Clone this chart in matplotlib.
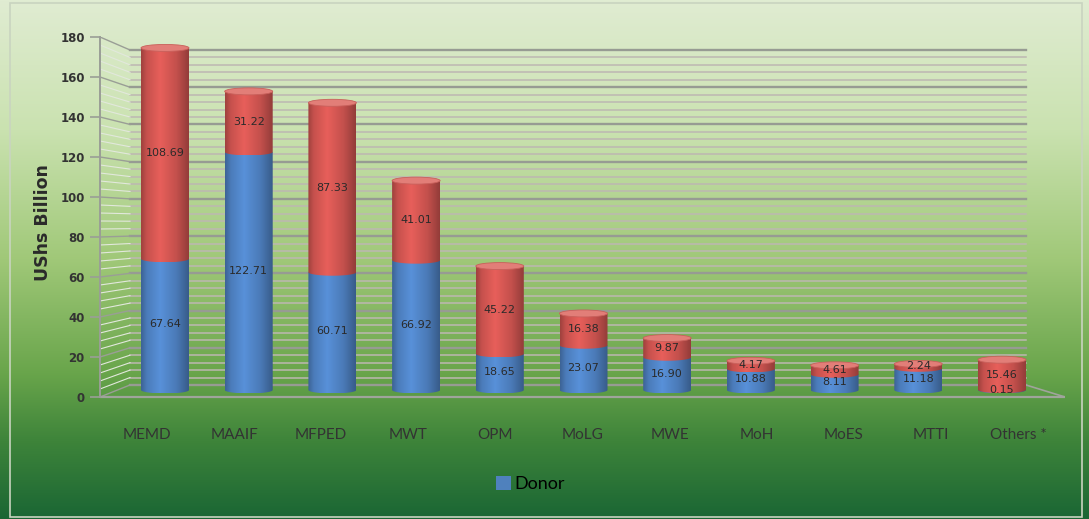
import numpy as np
import matplotlib
matplotlib.use('Agg')
import matplotlib.pyplot as plt
from matplotlib.path import Path
from matplotlib.patches import PathPatch, Ellipse, Patch, Rectangle

categories = ['MEMD', 'MAAIF', 'MFPED', 'MWT', 'OPM', 'MoLG', 'MWE',
              'MoH', 'MoES', 'MTTI', 'Others *']
donor = [67.64, 122.71, 60.71, 66.92, 18.65, 23.07, 16.90, 10.88, 8.11, 11.18, 0.15]
gou = [108.69, 31.22, 87.33, 41.01, 45.22, 16.38, 9.87, 4.17, 4.61, 2.24, 15.46]
yticks = list(range(0, 181, 20))

W, H = 1089, 519
fig = plt.figure(figsize=(W / 100, H / 100), dpi=100)

# background: vertical green gradient over the whole chart area
bg = fig.add_axes([0, 0, 1, 1], zorder=-1)
stops = np.array([0, 0.25, 0.5, 0.72, 0.85, 1.0])
cols = np.array([(224, 236, 210), (202, 226, 176), (160, 200, 120),
                 (105, 165, 75), (62, 132, 58), (26, 102, 52)]) / 255
yy = np.linspace(0, 1, 400)
grad = np.stack([np.interp(yy, stops, cols[:, k]) for k in range(3)], axis=-1)
bg.imshow(grad[:, None, :], aspect='auto', extent=[0, 1, 0, 1], origin='upper')
bg.add_patch(Rectangle((0.009, 0.004), 0.985, 0.99, fill=False, ec='#c9d4c0', lw=1.2))
bg.set_xlim(0, 1)
bg.set_ylim(0, 1)
bg.axis('off')

# main axes, laid out in pixels
px_left, px_right, px_top, px_bot = 100, 1065, 37, 409
ax = fig.add_axes([px_left / W, 1 - px_bot / H, (px_right - px_left) / W,
                   (px_bot - px_top) / H])
ax.patch.set_alpha(0)
step = 83.7
x0, x1 = (px_left - 165) / step, (px_right - 165) / step
ymin = -6

# back wall and side wall
xb_left = x0 + 30 / step
xb_right = (1026 - 165) / step
def back(v):
    return 6 + 0.9306 * v

# bars stand on a plane between the front axis and the back wall
def mid(v):
    return 3.5 + 0.97 * v

for v in np.arange(0, 181, 4):
    major = v % 20 == 0
    c = '#979b93' if major else '#bdb7b2'
    lw = 1.7 if major else 1.1
    ax.plot([xb_left, xb_right], [back(v), back(v)], color=c, lw=lw, zorder=1)
    ax.plot([x0, xb_left], [v, back(v)], color='#9a9e96' if major else '#e2e8dc',
            lw=1.0 if major else 0.8, zorder=1)
# floor edges
ax.plot([x0, x1], [0, 0], color='#a0a49c', lw=1.6, zorder=1)
ax.plot([xb_right, x1], [back(0), 0], color='#a0a49c', lw=1.2, zorder=1)

def shade(c):
    c = np.array(c) / 255
    p = np.linspace(0, 1, 60)
    pos = [0, 0.12, 0.4, 0.75, 1]
    f = [0.78, 0.97, 1.13, 0.95, 0.72]
    s = np.interp(p, pos, f)
    return np.clip(c[None, None, :] * s[None, :, None], 0, 1)

blue_sh = shade((78, 128, 192))
red_sh = shade((205, 84, 80))

bw = 48 / step
eh = 3.5

def cyl_segment(xc, y0, y1, img, z):
    half = bw / 2
    t = np.linspace(np.pi, 2 * np.pi, 40)
    verts = [(xc - half, y1)] + list(zip(xc + half * np.cos(t), y0 + eh / 2 * np.sin(t)))
    verts += [(xc + half, y1), (xc - half, y1)]
    patch = PathPatch(Path(verts), fc='none', ec='none')
    ax.add_patch(patch)
    im = ax.imshow(img, extent=[xc - half, xc + half, y0 - eh / 2, y1],
                   aspect='auto', zorder=z, interpolation='bilinear')
    im.set_clip_path(patch)

lbl = dict(ha='center', va='center', fontsize=8, color='#2a2a2a', zorder=6)
for i, (d, g) in enumerate(zip(donor, gou)):
    cyl_segment(i, mid(0), mid(d), blue_sh, 3)
    cyl_segment(i, mid(d), mid(d + g), red_sh, 3.1)
    ax.add_patch(Ellipse((i, mid(d + g)), bw, eh, fc='#e27e78', ec='#c8605b',
                         lw=0.6, zorder=4))
    ax.text(i, mid(d / 2), f'{d:.2f}', **lbl)
    ax.text(i, mid(d + g / 2), f'{g:.2f}', **lbl)

ax.set_xlim(x0, x1)
ax.set_ylim(ymin, 180)

for s in ['top', 'right', 'bottom']:
    ax.spines[s].set_visible(False)
ax.spines['left'].set_bounds(0, 180)
ax.spines['left'].set_color('#9a9e96')
ax.spines['left'].set_linewidth(1.4)
ax.set_yticks(yticks)
ax.set_yticklabels([str(t) for t in yticks], fontsize=8.5, fontweight='bold',
                   color='#333333')
ax.tick_params(axis='y', length=7, width=1.2, color='#9a9e96', pad=4)

# category labels sit on the front plane, slightly wider spaced than the bars
lab_x = [(147 + 87.1 * i - 165) / step for i in range(len(categories))]
ax.set_xticks(lab_x)
ax.set_xticklabels(categories, fontsize=11, color='#333333', family=['Lato', 'DejaVu Sans'])
ax.tick_params(axis='x', length=0, pad=14)

ax.set_ylabel('UShs Billion', fontsize=12.5, fontweight='bold', color='#2a2a2a',
              labelpad=6)

fig.legend(handles=[Patch(fc='#4f81bd', ec='none')], labels=['Donor'],
           loc='center', bbox_to_anchor=(0.487, 1 - 484 / H), frameon=False,
           handlelength=0.8, handleheight=0.8, handletextpad=0.2,
           prop={'family': ['Lato', 'DejaVu Sans'], 'size': 13})

fig.savefig('out.png', dpi=100)
